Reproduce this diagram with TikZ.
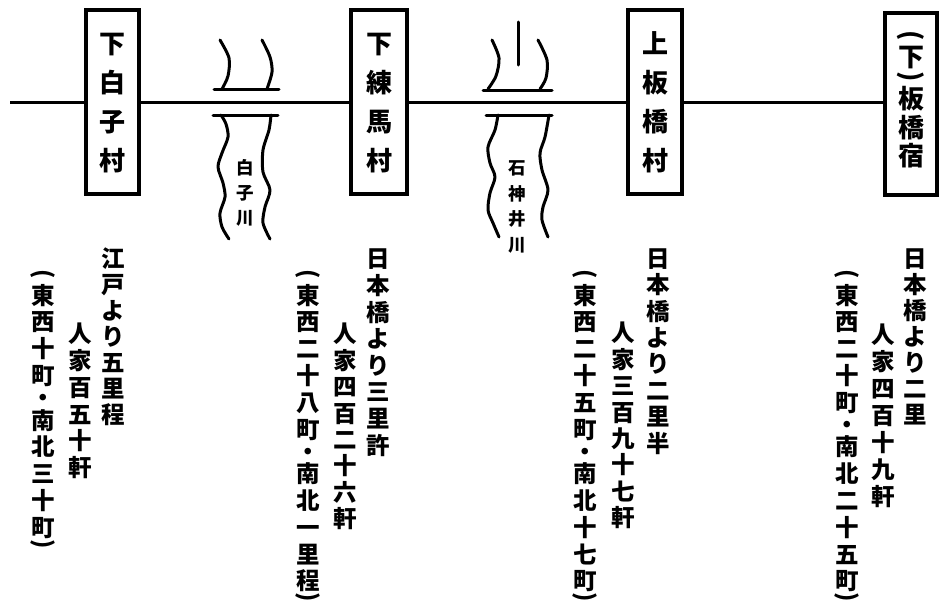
\documentclass[tikz,border=0pt]{standalone}
\usepackage{graphicx}
\usepackage{fontspec}
\newfontfamily\jp{Noto Sans CJK JP}
\newlength\vpitch
\newlength\parenA \parenA=13pt
\newlength\parenB \parenB=9pt
\def\vcell#1#2{\vbox to #1{\vss\hbox to 1.1em{\hss\rule[-.12em]{0pt}{1em}\smash{#2}\hss}\vss}}
\def\vcellR#1#2{\vbox to #1{\vss\hbox to 1.1em{\hss\rotatebox[origin=c]{-90}{#2}\hss}\vss}}
\def\vcellchoose#1{%
  \ifx#1・\vcell{.66\vpitch}{#1}\else
  \ifx#1︵\vcellR{\parenA}{(}\else
  \ifx#1︶\vcellR{\parenB}{)}\else
  \vcell{\vpitch}{#1}\fi\fi\fi}
\def\vtextA#1{\ifx#1\relax\else\vcellchoose{#1}\expandafter\vtextA\fi}
\newcommand\vtext[2]{\vpitch=#1\relax\vbox{\offinterlineskip\vtextA#2\relax}}
\tikzset{
  vbox/.style={draw, line width=3.2pt, fill=white, inner sep=0pt,
    minimum height=184pt, font=\jp\bfseries\fontsize{26}{30}\selectfont},
  vcol/.style={anchor=north, inner sep=0pt, font=\jp\bfseries\fontsize{23.5}{26}\selectfont},
  rtext/.style={anchor=north, inner sep=0pt, font=\jp\bfseries\fontsize{17.5}{20}\selectfont},
  road/.style={line width=3pt},
  bank/.style={line width=3pt, line cap=round, line join=round},
}
\begin{document}
\begin{tikzpicture}[x=1pt,y=-1pt]
\useasboundingbox[fill=white] (0,0) rectangle (939,605);
% village boxes
\node[vbox, minimum width=53pt] (b1) at (112.5,102) {\vtext{39pt}{下白子村}};
\node[vbox, minimum width=56pt] (b2) at (379,102) {\vtext{39pt}{下練馬村}};
\node[vbox, minimum width=54pt] (b3) at (655,102) {\vtext{39pt}{上板橋村}};
\node[vbox, minimum width=52pt, minimum height=182pt] (b4) at (911,104)
  {\parenA=10.5pt\parenB=13.5pt\vbox{\vtext{28.5pt}{︵下︶板橋宿}\kern5.5pt}};
% road
\coordinate (start) at (10,102);
\draw[road] (start) -- (b1);
\draw[road] (b1) -- (b2);
\draw[road] (b2) -- (b3);
\draw[road] (b3.east) -- (b3.east -| b4.west);
% river 1
\draw[bank] plot[smooth] coordinates {(220,40) (229,58) (228,76) (222,89)};
\draw[bank] plot[smooth] coordinates {(262,40) (270,57) (272,72) (267,89)};
\draw[bank] (214,89) -- (279,89);
\draw[bank] (213,115) -- (278,115);
\draw[bank] plot[smooth] coordinates {(221,115) (226,124) (228,137) (222,153) (218,167) (223,183) (225,197) (220,213) (222,227) (229,239)};
\draw[bank] plot[smooth] coordinates {(271,115) (269,130) (263,150) (263,172) (270,190) (265,207) (263,223) (270,239)};
\node[rtext] (r1) at (245,155) {\vtext{25pt}{白子川}};
% river 2
\draw[bank] (518,22) -- (518,65);
\draw[bank] plot[smooth] coordinates {(492,40) (499,58) (496,76) (488,89)};
\draw[bank] plot[smooth] coordinates {(538,40) (547,60) (546,78) (540,89)};
\draw[bank] (483,90) -- (552,90);
\draw[bank] (486,115) -- (552,115);
\draw[bank] plot[smooth] coordinates {(498,115) (495,130) (488,147) (490,163) (495,177) (490,193) (488,210) (493,223) (499,237)};
\draw[bank] plot[smooth] coordinates {(549,115) (545,137) (540,153) (542,170) (548,190) (543,207) (542,220) (548,237)};
\node[rtext] (r2) at (517,155) {\vtext{25.5pt}{石神井川}};
% group 1
\node[vcol] (a1) at (113,245) {\vtext{26pt}{江戸より五里程}};
\node[vcol] (n1) at (80,320.5) {\vtext{26.7pt}{人家百五十軒}};
\node[vcol] (s1) at (43,268.6) {\vtext{26.8pt}{︵東西十町・南北三十町︶}};
% group 2
\node[vcol] (a2) at (378,245.5) {\vtext{26.6pt}{日本橋より三里許}};
\node[vcol] (n2) at (345,320.5) {\vtext{26.4pt}{人家四百二十六軒}};
\node[vcol] (s2) at (308,268.6) {\vtext{26.8pt}{︵東西二十八町・南北一里程︶}};
% group 3
\node[vcol] (a3) at (658,245) {\vtext{26.4pt}{日本橋より二里半}};
\node[vcol] (n3) at (623,319.5) {\vtext{26.4pt}{人家三百九十七軒}};
\node[vcol] (s3) at (585,268.6) {\vtext{26.8pt}{︵東西二十五町・南北十七町︶}};
% group 4
\node[vcol] (a4) at (915,245.5) {\vtext{26pt}{日本橋より二里}};
\node[vcol] (n4) at (883,320.5) {\vtext{27pt}{人家四百十九軒}};
\node[vcol] (s4) at (847,268.6) {\vtext{26.8pt}{︵東西二十町・南北二十五町︶}};
\end{tikzpicture}
\end{document}
